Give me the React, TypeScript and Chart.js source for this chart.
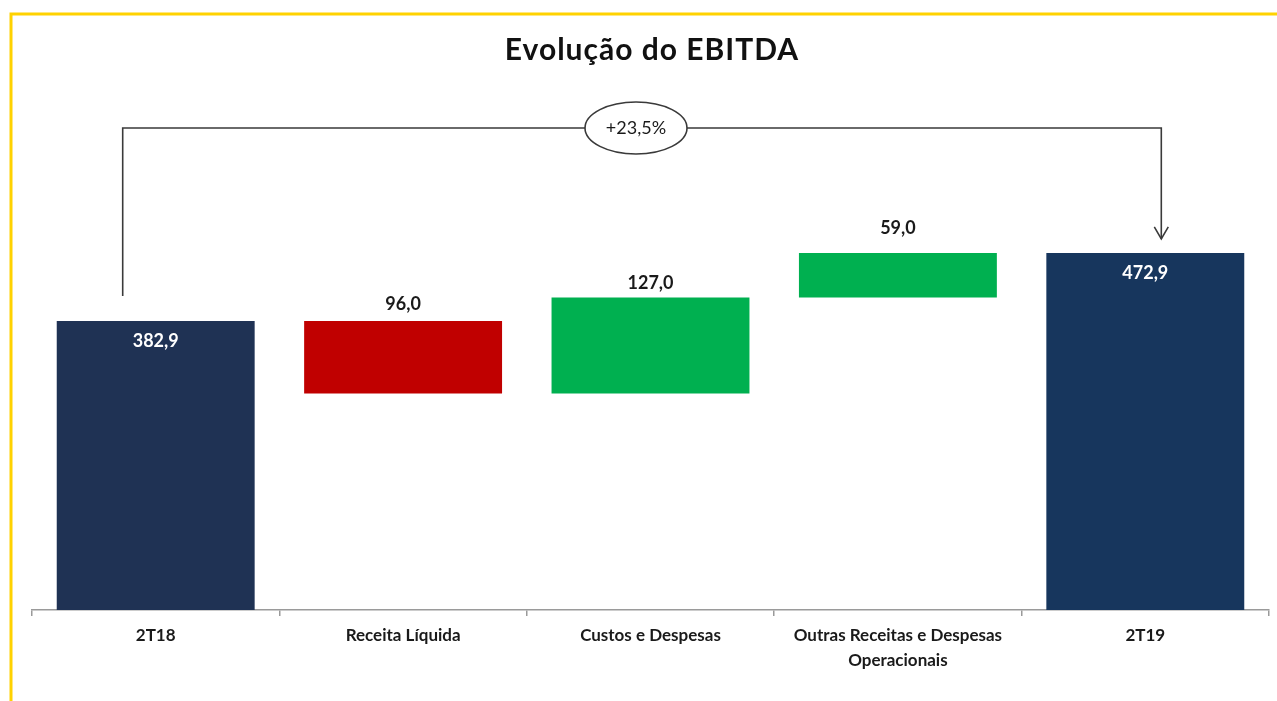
import React, { useEffect, useRef } from "react";
import { Chart, registerables } from "chart.js";

Chart.register(...registerables);

const categories: (string | string[])[] = [
  "2T18",
  "Receita Líquida",
  "Custos e Despesas",
  ["Outras Receitas e Despesas", "Operacionais"],
  "2T19",
];
const startValue = 382.9;
const changes = [-96.0, 127.0, 59.0];
const endValue = 472.9;
const labelTexts = ["382,9", "96,0", "127,0", "59,0", "472,9"];
const variationText = "+23,5%";
const barColors = ["#1F3254", "#C00000", "#00B050", "#00B050", "#17365D"];

function buildRanges(): [number, number][] {
  const out: [number, number][] = [[0, startValue]];
  let level = startValue;
  for (const c of changes) {
    const next = level + c;
    out.push([Math.min(level, next), Math.max(level, next)]);
    level = next;
  }
  out.push([0, endValue]);
  return out;
}

const FONT = "Lato, 'Open Sans', sans-serif";

const decorPlugin = {
  id: "decor",
  beforeDraw(chart: any) {
    const ctx = chart.ctx;
    ctx.save();
    ctx.fillStyle = "#ffffff";
    ctx.fillRect(0, 0, chart.width, chart.height);
    ctx.strokeStyle = "#FFD200";
    ctx.lineWidth = 3;
    ctx.beginPath();
    ctx.moveTo(11, chart.height);
    ctx.lineTo(11, 14);
    ctx.lineTo(chart.width, 14);
    ctx.stroke();
    // title
    ctx.fillStyle = "#111111";
    ctx.font = `bold 30px ${FONT}`;
    ctx.textAlign = "center";
    ctx.textBaseline = "middle";
    try {
      ctx.letterSpacing = "1px";
    } catch (e) {}
    ctx.fillText("Evolução do EBITDA", 652, 50);
    try {
      ctx.letterSpacing = "0px";
    } catch (e) {}
    ctx.restore();
  },
  afterDatasetsDraw(chart: any) {
    const ctx = chart.ctx;
    const xs = chart.scales.x;
    const ys = chart.scales.y;
    const meta = chart.getDatasetMeta(0);
    const ranges = chart.data.datasets[0].data as [number, number][];
    const aboveOffsets = [0, 17, 14, 25, 0];
    ctx.save();
    ctx.textAlign = "center";
    ctx.textBaseline = "middle";
    ctx.font = `bold 18px ${FONT}`;
    meta.data.forEach((bar: any, i: number) => {
      const top = ys.getPixelForValue(ranges[i][1]);
      if (i === 0 || i === ranges.length - 1) {
        ctx.fillStyle = "#ffffff";
        ctx.fillText(labelTexts[i], bar.x, top + 20);
      } else {
        ctx.fillStyle = "#1a1a1a";
        ctx.fillText(labelTexts[i], bar.x, top - aboveOffsets[i]);
      }
    });

    // connector
    const x0 = xs.getPixelForValue(0) - 33;
    const x4 = xs.getPixelForValue(ranges.length - 1) + 16;
    const yStart = ys.getPixelForValue(startValue) - 25;
    const yEnd = ys.getPixelForValue(endValue) - 14;
    const yTop = 128;
    ctx.strokeStyle = "#3a3a3a";
    ctx.lineWidth = 1.6;
    ctx.beginPath();
    ctx.moveTo(x0, yStart);
    ctx.lineTo(x0, yTop);
    ctx.lineTo(x4, yTop);
    ctx.lineTo(x4, yEnd);
    ctx.stroke();
    ctx.beginPath();
    ctx.moveTo(x4 - 7, yEnd - 12);
    ctx.lineTo(x4, yEnd);
    ctx.lineTo(x4 + 7, yEnd - 12);
    ctx.stroke();
    // ellipse
    const cx = 636;
    ctx.beginPath();
    ctx.ellipse(cx, yTop, 51, 26, 0, 0, Math.PI * 2);
    ctx.fillStyle = "#ffffff";
    ctx.fill();
    ctx.stroke();
    ctx.fillStyle = "#1a1a1a";
    ctx.font = `18px ${FONT}`;
    ctx.fillText(variationText, cx, yTop);
    ctx.restore();
  },
};

export default function App() {
  const ref = useRef<HTMLCanvasElement | null>(null);
  useEffect(() => {
    if (!ref.current) return;
    const chart = new Chart(ref.current, {
      type: "bar",
      data: {
        labels: categories as any,
        datasets: [
          {
            data: buildRanges() as any,
            backgroundColor: barColors,
            borderWidth: 0,
            categoryPercentage: 0.8,
            barPercentage: 1,
          },
        ],
      },
      options: {
        animation: false,
        responsive: false,
        layout: { padding: { left: 32, right: 8, top: 157, bottom: 21 } },
        plugins: {
          legend: { display: false },
          title: { display: false },
          tooltip: { enabled: false },
        },
        scales: {
          x: {
            grid: {
              offset: true,
              drawOnChartArea: false,
              drawTicks: true,
              tickLength: 6,
              color: "#9a9a9a",
              lineWidth: 1.5,
            },
            border: { display: true, color: "#9a9a9a", width: 1.5 },
            ticks: {
              color: "#1a1a1a",
              padding: 7,
              maxRotation: 0,
              autoSkip: false,
              font: { family: FONT, size: 17, weight: "bold", lineHeight: 1.47 },
            },
          },
          y: {
            display: false,
            min: 0,
            max: 600,
          },
        },
      },
      plugins: [decorPlugin],
    });
    return () => chart.destroy();
  }, []);
  return (
    <div style={{ position: "absolute", left: 0, top: 0, width: 1277, height: 701, background: "#fff" }}>
      <canvas ref={ref} width={1277} height={701} />
    </div>
  );
}
